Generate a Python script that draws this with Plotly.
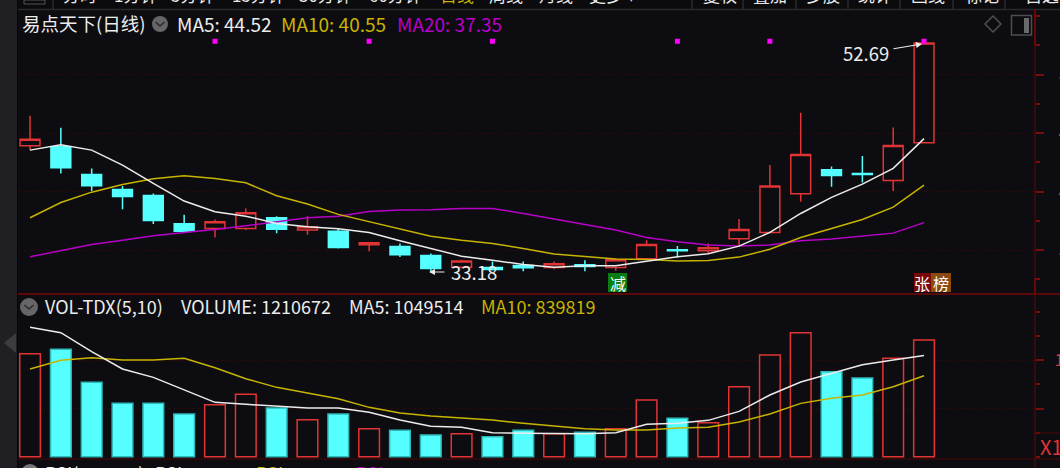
import plotly.graph_objects as go

days = list(range(30))
opens = [43.92,43.83,41.46,40.18,39.67,37.25,36.85,36.85,37.76,36.71,36.62,35.45,35.31,34.54,33.54,33.52,33.69,33.52,33.74,33.52,34.26,35.03,34.94,35.97,36.51,39.81,41.86,41.55,40.95,44.17]
closes = [44.46,42.03,40.50,39.58,37.53,36.62,37.42,38.19,36.79,36.99,35.23,35.62,34.60,33.43,34.06,33.35,33.49,33.83,33.60,34.17,35.48,34.94,35.20,36.76,40.47,43.17,41.38,41.46,43.94,52.69]
highs = [46.48,45.45,41.98,40.47,39.84,38.02,37.62,38.56,37.90,37.90,36.85,35.68,35.57,34.71,34.17,34.03,34.03,34.03,34.14,34.29,35.85,35.34,35.57,37.65,42.26,46.74,42.15,43.03,45.48,52.69]
lows = [43.54,41.55,40.04,38.50,37.22,36.56,36.08,36.71,36.45,36.31,35.14,34.91,34.40,33.18,33.43,33.25,33.20,33.37,33.20,33.23,34.14,34.37,34.71,35.34,36.42,39.13,40.41,40.78,40.04,44.17]
ma5 = [43.54,44.00,43.54,42.26,40.70,39.19,38.27,37.90,37.28,36.99,36.82,36.51,35.80,35.14,34.48,34.14,33.77,33.54,33.66,33.66,34.06,34.43,34.68,35.34,36.51,38.13,39.50,40.64,41.98,44.52]
ma10 = [37.76,39.07,39.95,40.61,41.09,41.35,41.12,40.75,39.64,38.93,38.05,37.42,36.85,36.19,35.85,35.57,35.14,34.66,34.46,34.23,34.20,34.06,34.11,34.40,35.08,36.08,36.85,37.62,38.67,40.55]
ma20 = [34.43,34.94,35.48,35.85,36.22,36.51,36.76,37.08,37.39,37.76,37.90,38.30,38.42,38.44,38.56,38.56,38.13,37.65,37.19,36.71,36.08,35.71,35.43,35.34,35.43,35.80,35.94,36.22,36.45,37.35]
signal_days = [6, 11, 15, 21, 24, 29]
signal_level = [52.84] * 6
volume = [1068800,1113800,771400,553400,553400,442800,539600,646800,505000,384000,442800,290600,273300,224800,238700,207500,273300,238700,252500,290600,588000,397800,352800,726400,1055000,1286700,882000,816300,1020400,1210672]
vol_ma5 = [1342100,1286700,1089600,909700,823200,691800,563800,543100,525800,505000,505000,460000,380500,314800,304400,249000,242100,238700,238700,249000,335500,345900,377000,470400,639900,774800,868200,954700,1003100,1049514]
vol_ma10 = [909700,999700,1027300,1003100,1003100,1020400,923600,809400,719500,657200,601900,511900,453100,422000,397800,380500,345900,318200,290600,276700,276700,297500,304400,359700,442800,553400,605300,639900,726400,839819]

BG = "#0d0d11"
RED = "#e23434"
CYAN = "#55ffff"
WHITE = "#ececec"
YEL = "#c8b400"
MAG = "#b800c8"
AXIS = "#5c0c0c"
FONT = "Noto Sans CJK SC"

def fx(p): return p / 1060
def fy(p): return 1 - p / 468

fig = go.Figure()
fig.add_trace(go.Candlestick(
    x=days, open=opens, high=highs, low=lows, close=closes, xaxis="x", yaxis="y",
    whiskerwidth=0,
    increasing=dict(line=dict(color=RED, width=1.5), fillcolor=BG),
    decreasing=dict(line=dict(color=CYAN, width=1.5), fillcolor=CYAN),
))
for vals, col in ((ma20, MAG), (ma10, YEL), (ma5, WHITE)):
    fig.add_trace(go.Scatter(x=days, y=vals, mode="lines", xaxis="x", yaxis="y",
                             line=dict(color=col, width=1.5)))
fig.add_trace(go.Scatter(x=signal_days, y=signal_level, mode="markers", xaxis="x", yaxis="y",
                         marker=dict(symbol="square", size=5, color="#ff00ff")))

up = [c >= o for o, c in zip(opens, closes)]
fig.add_trace(go.Bar(
    x=days, y=volume, xaxis="x2", yaxis="y2", width=0.67,
    marker=dict(color=[BG if u else CYAN for u in up],
                line=dict(color=[RED if u else "#2fb9b9" for u in up], width=1.5)),
))
for vals, col in ((vol_ma10, YEL), (vol_ma5, WHITE)):
    fig.add_trace(go.Scatter(x=days, y=vals, mode="lines", xaxis="x2", yaxis="y2",
                             line=dict(color=col, width=1.5)))

annotations = []
def label(text, x, y, color=WHITE, size=19, xanchor="left", yanchor="middle"):
    annotations.append(dict(text=text, x=fx(x), y=fy(y), xref="paper", yref="paper",
                            xanchor=xanchor, yanchor=yanchor, showarrow=False,
                            font=dict(family=FONT, size=size, color=color),
                            borderpad=0, borderwidth=0))

# toolbar, cut by the top edge of the picture
for t, x, c in (("分时", 61, WHITE), ("1分钟", 112, WHITE), ("5分钟", 169, WHITE), ("15分钟", 230, WHITE),
                ("30分钟", 297, WHITE), ("60分钟", 367, WHITE), ("日线", 438, YEL), ("周线", 487, WHITE),
                ("月线", 537, WHITE), ("更多 ▾", 587, WHITE), ("复权", 701, WHITE), ("叠加", 751, WHITE),
                ("多股", 804, WHITE), ("统计", 856, WHITE), ("画线", 909, WHITE), ("标记", 963, WHITE),
                ("自选", 1023, WHITE)):
    annotations.append(dict(text=t, x=fx(x), y=fy(9), xref="paper", yref="paper", xanchor="left",
                            yanchor="bottom", showarrow=False, font=dict(family=FONT, size=17, color=c)))

# headers
label("易点天下(日线)", 22, 23, size=18.5)
label("MA5: 44.52", 177, 23)
label("MA10: 40.55", 281, 23, YEL)
label("MA20: 37.35", 397, 23, MAG)
label("VOL-TDX(5,10)", 45, 306, size=18)
label("VOLUME: 1210672", 181, 306, size=18)
label("MA5: 1049514", 349, 306, size=18)
label("MA10: 839819", 481, 306, YEL, size=18)
# RSI header, cut by the bottom edge
label("RSI(6,12,24)", 45, 460, size=18, yanchor="top")
label("RSI1: 90.60", 155, 460, size=18, yanchor="top")
label("RSI2: 83.30", 256, 460, YEL, size=18, yanchor="top")
label("RSI3: 72.67", 356, 460, MAG, size=18, yanchor="top")

# price notes
label("52.69", 843, 53, size=18.5)
label("33.18", 451, 272, size=18.5)
annotations.append(dict(text="", x=fx(922), y=fy(44), xref="paper", yref="paper", ax=-30, ay=5,
                        showarrow=True, arrowhead=2, arrowsize=1, arrowwidth=1.2, arrowcolor=WHITE))
annotations.append(dict(text="", x=fx(429), y=fy(272), xref="paper", yref="paper", ax=17, ay=0,
                        showarrow=True, arrowhead=2, arrowsize=1, arrowwidth=1.2, arrowcolor=WHITE))
# badges
label("减", 617.5, 283, "#ffffff", 16, "center")
label("张", 922.5, 283, "#ffffff", 16, "center")
label("榜", 941, 283, "#ffffff", 16, "center")
label("X1", 1040, 446, RED, 20)

def rect(x0, y0, x1, y1, fill=None, line=None, lw=1, layer="above"):
    return dict(type="rect", xref="paper", yref="paper", x0=fx(x0), x1=fx(x1), y0=fy(y0), y1=fy(y1),
                fillcolor=fill or "rgba(0,0,0,0)", line=dict(color=line or "rgba(0,0,0,0)", width=lw if line else 0),
                layer=layer)
def seg(x0, y0, x1, y1, col, w=1, layer="above"):
    return dict(type="line", xref="paper", yref="paper", x0=fx(x0), x1=fx(x1), y0=fy(y0), y1=fy(y1),
                line=dict(color=col, width=w), layer=layer)
def poly(points, fill=None, line=None, lw=1.5, close=True):
    d = "M" + " L".join(f"{fx(a):.5f},{fy(b):.5f}" for a, b in points) + (" Z" if close else "")
    return dict(type="path", xref="paper", yref="paper", path=d, fillcolor=fill or "rgba(0,0,0,0)",
                line=dict(color=line or "rgba(0,0,0,0)", width=lw if line else 0), layer="above")
def circle(cx, cy, r, fill):
    return dict(type="circle", xref="paper", yref="paper", x0=fx(cx - r), x1=fx(cx + r),
                y0=fy(cy + r), y1=fy(cy - r), fillcolor=fill, line=dict(width=0), layer="above")

shapes = [
    rect(0, 0, 17, 468, "#202024"),
    seg(17.5, 0, 17.5, 468, "#060608", 1),
    rect(18, 0, 1060, 9, "#0b0b0e", layer="below"),
    seg(18, 9.5, 1060, 9.5, "#2a2a2e", 1.5),
    rect(24, 0, 45, 4, None, "#555558", 1),
    poly([(16, 333), (4, 343), (16, 353)], "#3c3c40"),
    seg(18, 294, 1060, 294, "#5c0808", 2),
    seg(18, 459, 1060, 459, "#4c0808", 1),
    seg(1035, 433, 1060, 433, "#4c0808", 1),
    seg(1035, 10, 1035, 468, AXIS, 1),
    seg(1035, 10, 1035, 45, "#6a0808", 2),
    seg(1035, 278, 1035, 294, "#6a0808", 2),
    circle(160, 24, 8, "#666668"),
    poly([(155.5, 22), (160, 26), (164.5, 22)], None, "#2a2a2c", 1.5, False),
    circle(29, 307, 9, "#666668"),
    poly([(24.5, 305), (29, 309), (33.5, 305)], None, "#2a2a2c", 1.5, False),
    circle(30, 473, 9, "#777779"),
    poly([(993, 16), (1001, 24), (993, 32), (985, 24)], None, "#4e4e50", 1.5),
    rect(1011.5, 15.5, 1031.5, 35, None, "#4e4e50", 1.5),
    rect(1024, 18, 1029, 33, "#6a6a6c"),
    rect(608, 273, 627, 292, "#0a7d12"),
    rect(914, 273, 931, 292, "#7a0a0a"),
    rect(931, 273, 951, 292, "#8a4a10"),
]
for x in (53, 692, 743, 796, 848, 900, 953, 1005):
    shapes.append(seg(x, 0, x, 9, "#2a2a2e", 1.5))

X_RANGE = [-0.39, 32.6]
axis_x = dict(range=X_RANGE, visible=False, fixedrange=True, rangeslider=dict(visible=False),
              domain=[fx(18), fx(1035)])
grid = dict(showgrid=True, gridcolor="#280c0c", griddash="dot", gridwidth=1, zeroline=False,
            showline=False, side="right", ticks="outside", ticklen=8, tickcolor="#7a0e0e", tickwidth=1.5,
            fixedrange=True, automargin=False)
fig.update_layout(
    width=1060, height=468, margin=dict(l=0, r=0, t=0, b=0, autoexpand=False), showlegend=False,
    paper_bgcolor=BG, plot_bgcolor=BG,
    xaxis=dict(anchor="y", **axis_x),
    xaxis2=dict(anchor="y2", **axis_x),
    yaxis=dict(domain=[fy(294), fy(10)], range=[31.25, 55.51], tickvals=[35, 40, 45, 50],
               ticktext=["35.00", "40.00", "45.00", "50.00"], anchor="x",
               tickfont=dict(family=FONT, size=17, color=RED), ticklabelstandoff=11,
               minor=dict(dtick=2.5, ticklen=4, ticks="outside", tickcolor="#7a0e0e", showgrid=False), **grid),
    yaxis2=dict(domain=[fy(459), fy(294)], range=[-23900, 1688000], tickvals=[500000, 1000000],
                ticktext=["", "100.00"], anchor="x2",
                tickfont=dict(family=FONT, size=17, color=RED), ticklabelstandoff=7,
                minor=dict(dtick=250000, ticklen=4, ticks="outside", tickcolor="#7a0e0e", showgrid=False), **grid),
    annotations=annotations, shapes=shapes, bargap=0.33, boxgap=0.08,
)
fig.write_html("out.html", config=dict(displayModeBar=False),
               post_script="document.body.style.margin='0';document.body.style.overflow='hidden';")
